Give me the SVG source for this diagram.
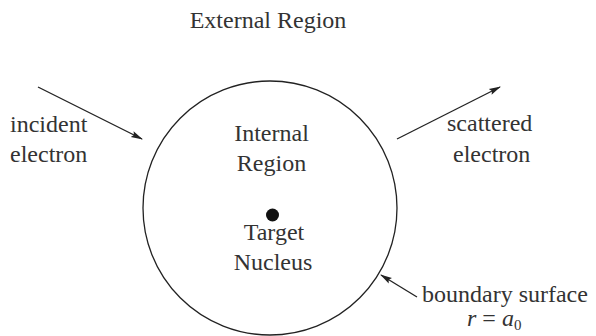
<svg xmlns="http://www.w3.org/2000/svg" width="596" height="336" viewBox="0 0 596 336">
<style>
text{font-size:24px;fill:#333}
.c{text-anchor:middle}
.ln{stroke:#222;stroke-width:1.3;fill:none}
</style>
<defs>
<marker id="ah" viewBox="0 0 12 8" refX="11" refY="4" markerWidth="12" markerHeight="8" markerUnits="userSpaceOnUse" orient="auto">
<path d="M0,0.8 L12,4 L0,7.2 L2,4 Z" fill="#222"/>
</marker>
</defs>
<rect width="596" height="336" fill="#fff"/>
<g font-family="'Liberation Serif', 'Times New Roman', 'DejaVu Serif', serif">
<g id="external-region"><text class="c" x="268" y="28">External Region</text></g>
<g id="boundary"><circle class="ln" cx="270" cy="208" r="127"/></g>
<g id="internal-region"><text class="c" x="271.5" y="141">Internal</text><text class="c" x="271.5" y="171">Region</text></g>
<g id="nucleus"><circle cx="272.5" cy="215" r="6.5" fill="#111"/><text class="c" x="274" y="240">Target</text><text class="c" x="273" y="270">Nucleus</text></g>
<g id="incident"><text x="10" y="132">incident</text><text x="10" y="162">electron</text></g>
<g id="scattered"><text x="447" y="131">scattered</text><text x="453" y="162">electron</text></g>
<g id="boundary-label"><text x="422" y="302">boundary surface</text><text x="467" y="326"><tspan font-style="italic">r</tspan> = <tspan font-style="italic">a</tspan><tspan font-size="15" dy="4">0</tspan></text></g>
</g>
<g id="connectors">
<line class="ln" x1="38" y1="87" x2="142" y2="139" marker-end="url(#ah)"/>
<line class="ln" x1="397" y1="139" x2="500" y2="87" marker-end="url(#ah)"/>
<line class="ln" x1="417" y1="297" x2="381" y2="275" marker-end="url(#ah)"/>
</g>
</svg>
